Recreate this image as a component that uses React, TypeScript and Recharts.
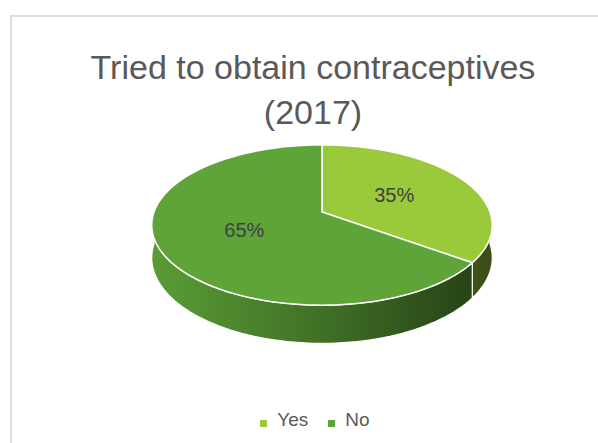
import React from 'react';
import { PieChart, Pie, Cell, Legend } from 'recharts';

const categories = ['Yes', 'No'];
const shares = [35, 65];
const colors = ['#9BC93C', '#5EA438'];
const titleLines = ['Tried to obtain contraceptives', '(2017)'];

const data = categories.map((name, i) => ({ name, value: shares[i] }));

const W = 598;
const H = 443;
const FONT = '"Liberation Sans", Arial, sans-serif';
const RY_RATIO = 0.4645;
const PERSP = 6.15;
const DEPTH = 0.19;
const RAD = Math.PI / 180;

function project(cx: number, cy: number, r: number, phiDeg: number, f = 1, drop = 0): [number, number] {
  const X = Math.cos(phiDeg * RAD) * f;
  const Z = Math.sin(phiDeg * RAD) * f;
  const s = PERSP / (PERSP + Z);
  return [cx + r * X * s, cy - r * RY_RATIO * Z * s + r * drop * s];
}

function arcPts(cx: number, cy: number, r: number, a: number, b: number, drop = 0) {
  const n = Math.max(2, Math.ceil(Math.abs(b - a) / 2));
  const pts: [number, number][] = [];
  for (let i = 0; i <= n; i++) pts.push(project(cx, cy, r, a + ((b - a) * i) / n, 1, drop));
  return pts;
}

function shade(hex: string, k: number) {
  const n = parseInt(hex.slice(1), 16);
  const r = Math.round(((n >> 16) & 255) * k);
  const g = Math.round(((n >> 8) & 255) * k);
  const b = Math.round((n & 255) * k);
  return `rgb(${r},${g},${b})`;
}

const toD = (pts: [number, number][]) =>
  pts.map((p, i) => `${i === 0 ? 'M' : 'L'}${p[0].toFixed(2)},${p[1].toFixed(2)}`).join(' ');

function Slice3D(props: any) {
  const { cx, cy, outerRadius: r, startAngle, endAngle } = props;
  const name = props?.payload?.name ?? props.name;
  const idx = Math.max(0, categories.indexOf(name));
  const color = colors[idx];
  const lo = Math.min(startAngle, endAngle);
  const hi = Math.max(startAngle, endAngle);
  const sides: [number, number][] = [];
  for (let k = -2; k <= 1; k++) {
    const a = Math.max(lo, -180 + 360 * k);
    const b = Math.min(hi, 360 * k);
    if (b > a) sides.push([a, b]);
  }
  const gid = `side-grad-${idx}`;
  const top = [[cx, cy] as [number, number], ...arcPts(cx, cy, r, startAngle, endAngle)];
  return (
    <g>
      <defs>
        <linearGradient id={gid} gradientUnits="userSpaceOnUse" x1={cx - r} y1={0} x2={cx + r} y2={0}>
          <stop offset="0" stopColor={shade(color, 0.95)} />
          <stop offset="0.5" stopColor={shade(color, 0.68)} />
          <stop offset="1" stopColor={shade(color, 0.38)} />
        </linearGradient>
      </defs>
      {sides.map(([a, b], i) => {
        const upper = arcPts(cx, cy, r, a, b, 0);
        const lower = arcPts(cx, cy, r, b, a, DEPTH);
        return (
          <path
            key={i}
            d={toD([...upper, ...lower]) + ' Z'}
            fill={`url(#${gid})`}
            stroke="#ffffff"
            strokeWidth={1.2}
            strokeLinejoin="round"
          />
        );
      })}
      <path d={toD(top) + ' Z'} fill={color} stroke="#ffffff" strokeWidth={1.5} strokeLinejoin="round" />
    </g>
  );
}

const renderLabel = (p: any) => {
  const { cx, cy, outerRadius: r, midAngle, percent } = p;
  const [x, y] = project(cx, cy, r, midAngle, 0.5);
  return (
    <text x={x} y={y + 7} textAnchor="middle" fill="#404040" fontSize={20} fontFamily={FONT}>
      {`${Math.round(percent * 100)}%`}
    </text>
  );
};

const renderLegend = (props: any) => {
  const payload = [...(props.payload || [])].sort(
    (a: any, b: any) => categories.indexOf(a.value) - categories.indexOf(b.value)
  );
  return (
    <div
      style={{
        display: 'flex',
        justifyContent: 'center',
        alignItems: 'center',
        paddingLeft: 32,
        fontFamily: FONT,
        fontSize: 19,
        color: '#595959',
        lineHeight: '20px',
      }}
    >
      {payload.map((e: any, i: number) => (
        <span
          key={i}
          style={{ display: 'inline-flex', alignItems: 'center', marginRight: i < payload.length - 1 ? 20 : 0 }}
        >
          <span style={{ width: 7, height: 7, background: e.color, marginRight: 10, marginTop: 6 }} />
          {e.value}
        </span>
      ))}
    </div>
  );
};

export default function App() {
  return (
    <div style={{ position: 'absolute', left: 0, top: 0, width: W, height: H, overflow: 'hidden', background: '#fff' }}>
      <div
        style={{
          position: 'absolute',
          left: 10,
          top: 15,
          width: 700,
          height: 600,
          border: '2px solid #dedede',
          boxSizing: 'border-box',
        }}
      />
      <svg width={W} height={H} style={{ position: 'absolute', left: 0, top: 0 }}>
        {titleLines.map((t, i) => (
          <text key={i} x={313} y={79 + i * 45} textAnchor="middle" fill="#595959" fontSize={34} fontFamily={FONT}>
            {t}
          </text>
        ))}
      </svg>
      <div style={{ position: 'absolute', left: 0, top: 0 }}>
        <PieChart width={W} height={H} margin={{ top: 0, right: 0, bottom: 0, left: 0 }}>
          <Pie
            data={data}
            dataKey="value"
            nameKey="name"
            cx={322}
            cy={212}
            outerRadius={168}
            startAngle={90}
            endAngle={-270}
            stroke="none"
            label={renderLabel}
            labelLine={false}
            shape={Slice3D}
            activeShape={Slice3D}
            inactiveShape={Slice3D}
            isAnimationActive={false}
          >
            {data.map((d, i) => (
              <Cell key={d.name} fill={colors[i]} />
            ))}
          </Pie>
          <Legend content={renderLegend} wrapperStyle={{ top: 410, left: 0, width: W, bottom: 'auto' }} />
        </PieChart>
      </div>
    </div>
  );
}
